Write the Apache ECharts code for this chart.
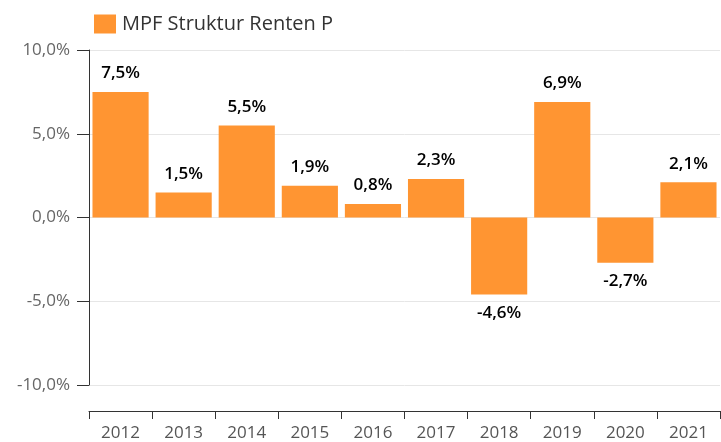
<!DOCTYPE html>
<html>
<head>
<meta charset="utf-8">
<script src="https://cdn.jsdelivr.net/npm/echarts@6/dist/echarts.min.js"></script>
<style>
  html, body { margin: 0; padding: 0; background: #fff; }
  #chart { width: 721px; height: 442px; }
</style>
</head>
<body>
<div id="chart"></div>
<script>
// data
const years = ['2012', '2013', '2014', '2015', '2016', '2017', '2018', '2019', '2020', '2021'];
const returns = [7.5, 1.5, 5.5, 1.9, 0.8, 2.3, -4.6, 6.9, -2.7, 2.1];
const seriesName = 'MPF Struktur Renten P';

const fmt = v => v.toFixed(1).replace('.', ',') + '%';
const font = '"Open Sans", "Noto Sans", sans-serif';

const chart = echarts.init(document.getElementById('chart'));

chart.setOption({
  animation: false,
  textStyle: { fontFamily: font },
  legend: {
    left: 94,
    top: 14,
    padding: 0,
    itemWidth: 22,
    itemHeight: 19,
    itemGap: 8,
    icon: 'rect',
    textStyle: { fontSize: 20, color: '#333', fontFamily: font, padding: [0, 0, 0, 1] },
    data: [seriesName]
  },
  grid: { left: 89, right: 1, top: 50, bottom: 55, containLabel: false },
  xAxis: {
    type: 'category',
    data: years,
    position: 'bottom',
    offset: 26,
    axisLine: { onZero: false, lineStyle: { color: '#333', width: 1 } },
    axisTick: { show: true, length: 8, lineStyle: { color: '#333' } },
    axisLabel: { color: '#555', fontSize: 17, margin: 14, fontFamily: font }
  },
  yAxis: {
    type: 'value',
    min: -10,
    max: 10,
    interval: 5,
    axisLine: { show: true, onZero: false, lineStyle: { color: '#333' } },
    axisTick: { show: true, length: 12, lineStyle: { color: '#333' } },
    axisLabel: { color: '#666', fontSize: 17, margin: 19, fontFamily: font, formatter: fmt },
    splitLine: { lineStyle: { color: '#e6e6e6' } }
  },
  series: [{
    name: seriesName,
    type: 'bar',
    data: returns.map(v => ({
      value: v,
      label: { position: v >= 0 ? 'top' : 'bottom' }
    })),
    barCategoryGap: '11%',
    itemStyle: { color: '#ff9532' },
    label: {
      show: true,
      distance: 10,
      color: '#000',
      fontSize: 17,
      fontWeight: 600,
      fontFamily: font,
      formatter: p => fmt(p.value)
    }
  }]
});
</script>
</body>
</html>
